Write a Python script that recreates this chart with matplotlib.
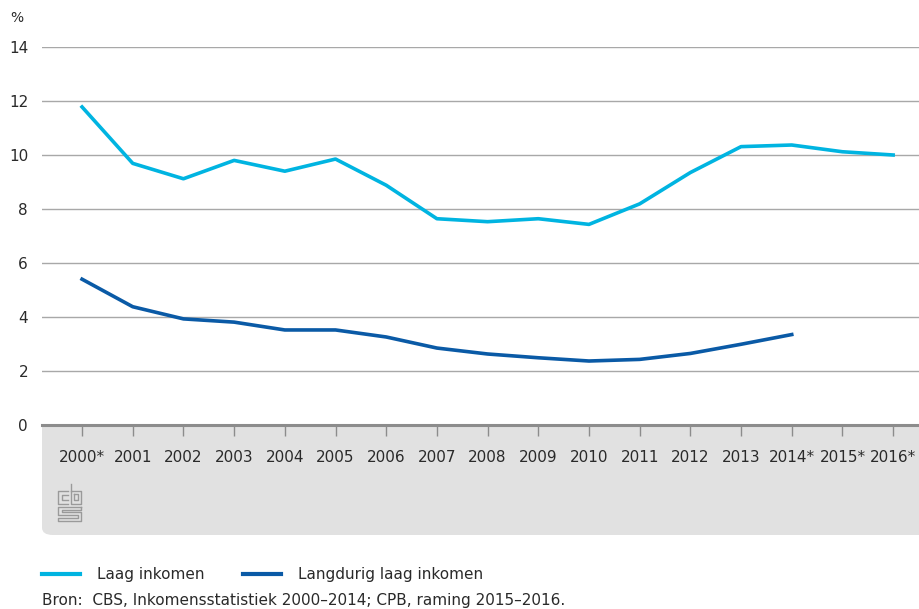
import numpy as np
import matplotlib.pyplot as plt
from matplotlib.patches import FancyBboxPatch
from matplotlib.lines import Line2D

jaren = ['2000*', '2001', '2002', '2003', '2004', '2005', '2006', '2007', '2008',
         '2009', '2010', '2011', '2012', '2013', '2014*', '2015*', '2016*']
laag_inkomen = [11.78, 9.69, 9.12, 9.80, 9.40, 9.85, 8.88, 7.64, 7.53,
                7.64, 7.43, 8.19, 9.35, 10.31, 10.37, 10.12, 10.0]
langdurig_laag = [5.40, 4.38, 3.93, 3.81, 3.52, 3.52, 3.26, 2.85, 2.63,
                  2.49, 2.37, 2.43, 2.65, 2.99, 3.35]

licht_blauw = '#00b4e1'
donker_blauw = '#0a5aa6'
tekst = '#2a2a2a'
W, H = 920, 609

fig = plt.figure(figsize=(9.2, 6.09), dpi=100)
ax = fig.add_axes([42 / W, 1 - 425 / H, 1 - 42 / W, (425 - 47) / H])

x = np.arange(len(jaren))
ax.plot(x, laag_inkomen, color=licht_blauw, lw=2.6, zorder=3)
ax.plot(x[:len(langdurig_laag)], langdurig_laag, color=donker_blauw, lw=2.6, zorder=3)

ax.set_ylim(0, 14)
ax.set_xlim(-0.79, 16.53)
ax.set_yticks(range(0, 15, 2))
ax.yaxis.grid(True, color='#a8a8a8', lw=1.0)
ax.set_axisbelow(True)
for s in ['top', 'right', 'left']:
    ax.spines[s].set_visible(False)
ax.spines['bottom'].set_color('#8c8c8c')
ax.spines['bottom'].set_linewidth(2.2)
ax.tick_params(axis='y', length=0, pad=10, labelsize=11, labelcolor=tekst)
ax.set_xticks(x)
ax.set_xticklabels(jaren)
ax.tick_params(axis='x', length=8, width=1.0, color='#8c8c8c', pad=10,
               labelsize=11, labelcolor=tekst)

# grijs paneel onder de as
paneel = FancyBboxPatch((42 / W, 1 - 535 / H), 1.0, 135 / H,
                        boxstyle='round,pad=0,rounding_size=0.012',
                        transform=fig.transFigure, facecolor='#e1e1e1',
                        edgecolor='none', zorder=-1)
fig.patches.append(paneel)

# cbs logo (schets)
def px(xp, yp):
    return [v / W for v in xp], [1 - v / H for v in yp]

logo = [
    ([68, 58, 58, 68], [491, 491, 504, 504]),
    ([68, 62, 62, 68], [495, 495, 500, 500]),
    ([71, 71, 81, 81, 71], [484, 504, 504, 491, 491]),
    ([74, 78, 78, 74, 74], [494, 494, 500, 500, 494]),
    ([81, 58, 58, 78, 78, 58, 58, 81, 81, 62, 62, 81, 81],
     [507, 507, 515, 515, 518, 518, 521, 521, 512, 512, 510, 510, 507]),
]
for xp, yp in logo:
    lx, ly = px(xp, yp)
    fig.add_artist(Line2D(lx, ly, color='#9a9a9a', lw=1.0, transform=fig.transFigure))

fig.text(10 / W, 1 - 18 / H, '%', fontsize=10, color=tekst, va='center')

# legenda
lx, ly = px([42, 80], [574, 574])
fig.add_artist(Line2D(lx, ly, color=licht_blauw, lw=3, transform=fig.transFigure))
fig.text(97 / W, 1 - 574 / H, 'Laag inkomen', fontsize=11, color=tekst, va='center')
lx, ly = px([243, 281], [574, 574])
fig.add_artist(Line2D(lx, ly, color=donker_blauw, lw=3, transform=fig.transFigure))
fig.text(298 / W, 1 - 574 / H, 'Langdurig laag inkomen', fontsize=11, color=tekst, va='center')

fig.text(42 / W, 1 - 601 / H, 'Bron:  CBS, Inkomensstatistiek 2000–2014; CPB, raming 2015–2016.',
         fontsize=11, color=tekst, va='center')

fig.savefig('out.png', dpi=100)
